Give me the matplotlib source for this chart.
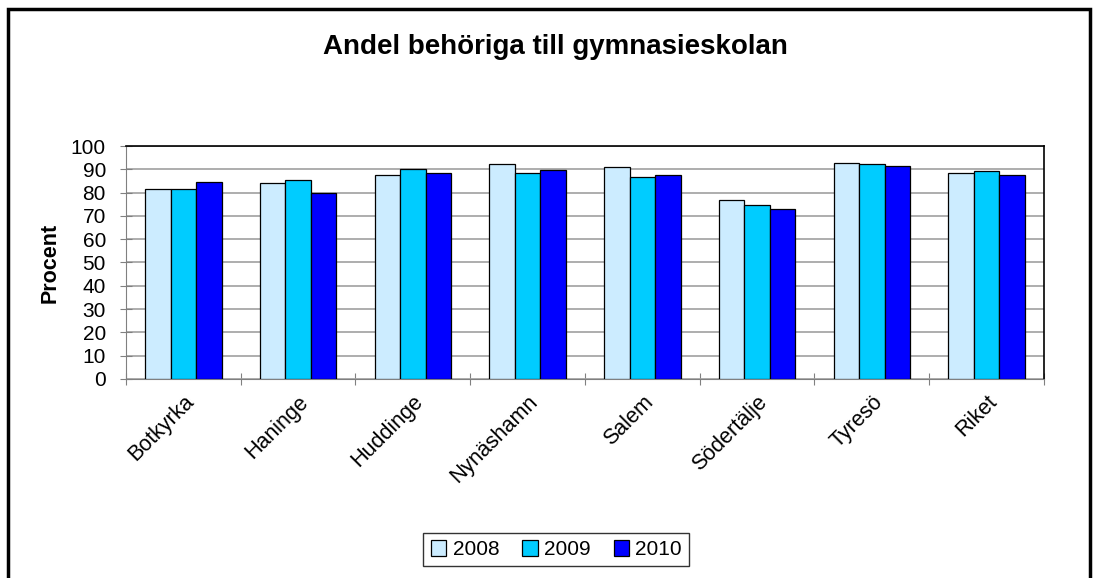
import matplotlib.pyplot as plt
import matplotlib.patches as mpatches
import numpy as np

plt.rcParams['font.family'] = ['Liberation Sans', 'DejaVu Sans']

kommuner = ['Botkyrka', 'Haninge', 'Huddinge', 'Nynäshamn', 'Salem',
            'Södertälje', 'Tyresö', 'Riket']
ar = ['2008', '2009', '2010']
v2008 = [81.5, 84.0, 87.6, 92.1, 90.9, 77.0, 92.7, 88.6]
v2009 = [81.5, 85.5, 90.0, 88.6, 86.6, 74.5, 92.2, 89.1]
v2010 = [84.6, 79.7, 88.6, 89.5, 87.6, 73.0, 91.6, 87.6]
farger = ['#CCECFF', '#00CCFF', '#0000FF']

fig = plt.figure(figsize=(10.93, 5.78), dpi=100)
ax = fig.add_axes([0.1153, 0.3443, 0.8398, 0.4031])

x = np.arange(len(kommuner))
w = 0.222
for i, (vals, c, lab) in enumerate(zip([v2008, v2009, v2010], farger, ar)):
    ax.bar(x + (i - 1) * w, vals, w, color=c, edgecolor='black',
           linewidth=0.9, label=lab, zorder=3)

ax.set_xlim(-0.5, len(kommuner) - 0.5)
ax.set_ylim(0, 100)
ax.set_yticks(range(0, 101, 10))
ax.yaxis.grid(True, color='#a0a0a0', linewidth=1.2, zorder=0)
ax.tick_params(axis='y', labelsize=15, length=9, direction='inout',
               color='#808080', pad=10)

# tick marks between categories, labels at centres
ax.set_xticks(np.arange(-0.5, len(kommuner)), minor=False)
ax.set_xticklabels([])
ax.set_xticks(x, minor=True)
ax.set_xticklabels(kommuner, minor=True, rotation=45, ha='right',
                   rotation_mode='anchor', fontsize=15.5)
ax.tick_params(axis='x', which='major', length=9, direction='inout',
               color='#808080')
ax.tick_params(axis='x', which='minor', length=0, pad=9)

for s in ['left', 'bottom']:
    ax.spines[s].set_color('#808080')
for s in ['top', 'right']:
    ax.spines[s].set_color('black')
    ax.spines[s].set_linewidth(1.2)

ax.set_ylabel('Procent', fontsize=15.5, fontweight='bold', labelpad=7)
fig.text(0.508, 0.918, 'Andel behöriga till gymnasieskolan', ha='center',
         va='center', fontsize=20, fontweight='bold')

leg = fig.legend(loc='center', bbox_to_anchor=(0.509, 0.049), ncol=3,
                 fontsize=15, frameon=True, fancybox=False, edgecolor='black',
                 handlelength=0.75, handleheight=0.75, handletextpad=0.3,
                 columnspacing=1.1, borderpad=0.35)
leg.get_frame().set_linewidth(1.0)

# yttre ram runt diagrammet
fig.patches.append(mpatches.Rectangle((8 / 1093, -0.05), 1082 / 1093,
                                      1.05 - 9 / 578, transform=fig.transFigure,
                                      fill=False, edgecolor='black', linewidth=2.5))

fig.savefig('out.png', dpi=100)
